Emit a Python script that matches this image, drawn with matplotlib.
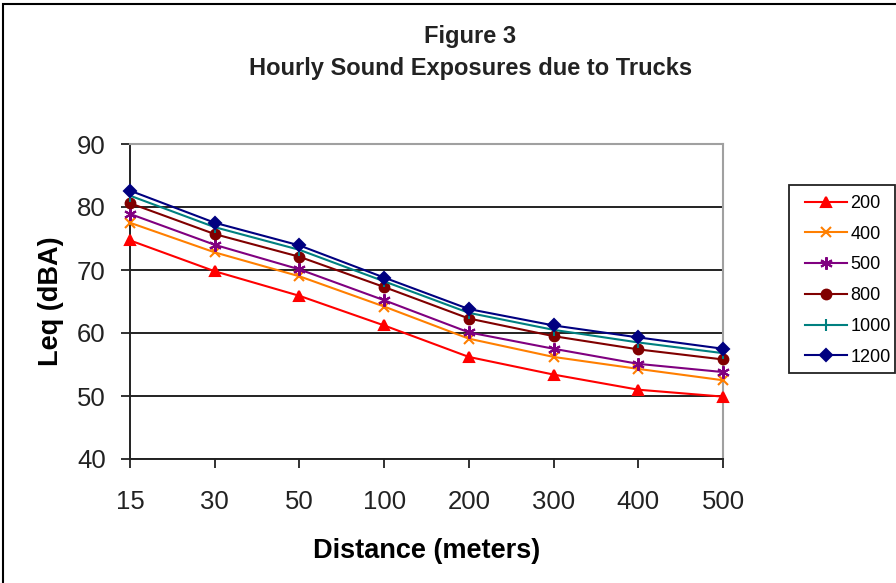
import matplotlib.pyplot as plt
from matplotlib.patches import Rectangle

plt.rcParams['font.family'] = ['Liberation Sans', 'DejaVu Sans']

# distance categories (meters)
distances = ['15', '30', '50', '100', '200', '300', '400', '500']

# Leq (dBA) per truck count
leq_200 = [74.7, 69.8, 65.9, 61.2, 56.2, 53.4, 51.0, 49.9]
leq_400 = [77.5, 72.8, 69.0, 64.2, 59.1, 56.2, 54.3, 52.5]
leq_500 = [78.9, 74.0, 70.1, 65.2, 60.1, 57.5, 55.1, 53.8]
leq_800 = [80.6, 75.7, 72.1, 67.3, 62.3, 59.5, 57.4, 55.8]
leq_1000 = [81.8, 76.8, 73.2, 68.2, 63.2, 60.5, 58.5, 56.8]
leq_1200 = [82.6, 77.5, 73.9, 68.8, 63.8, 61.2, 59.3, 57.5]

series = [
    ('200', leq_200, '#FF0000', '^', 7),
    ('400', leq_400, '#FF7F00', 'x', 7),
    ('500', leq_500, '#800080', (6, 2, 0), 9),
    ('800', leq_800, '#800000', 'o', 7),
    ('1000', leq_1000, '#008080', '|', 8),
    ('1200', leq_1200, '#000080', 'D', 6),
]

fig = plt.figure(figsize=(8.96, 5.83), dpi=100)
ax = fig.add_axes([130 / 896, 1 - 459 / 583, (723 - 130) / 896, (459 - 144) / 583])

x = list(range(len(distances)))
for name, vals, col, mk, ms in series:
    ax.plot(x, vals, color=col, marker=mk, markersize=ms, linewidth=1.5,
            markeredgewidth=1.5, label=name, clip_on=False, zorder=3)

ax.set_xlim(0, 7)
ax.set_ylim(40, 90)
ax.set_xticks(x)
ax.set_xticklabels(distances)
ax.set_yticks(range(40, 91, 10))
ax.yaxis.grid(True, color='#222222', linewidth=1.4)
ax.set_axisbelow(True)
ax.tick_params(axis='both', labelsize=18.5, direction='out', length=6.5,
               width=1.3, colors='#222222', labelcolor='#222222')
ax.tick_params(axis='x', pad=16)
ax.tick_params(axis='y', pad=11)

for s in ['left', 'bottom']:
    ax.spines[s].set_linewidth(1.4)
    ax.spines[s].set_color('#222222')
for s in ['right', 'top']:
    ax.spines[s].set_color('#a0a0a0')
    ax.spines[s].set_linewidth(1.5)

ax.set_xlabel('Distance (meters)', fontsize=19.5, fontweight='bold', labelpad=17)
ax.set_ylabel('Leq (dBA)', fontsize=19.5, fontweight='bold', labelpad=9)

fig.text(0.525, 1 - 43 / 583, 'Figure 3', ha='center', va='baseline',
         fontsize=17, fontweight='bold', color='#222222')
fig.text(0.525, 1 - 75 / 583, 'Hourly Sound Exposures due to Trucks',
         ha='center', va='baseline', fontsize=17, fontweight='bold',
         color='#222222')

leg = fig.legend(loc='upper left', bbox_to_anchor=(805 / 896, 1 - 195 / 583),
                 fontsize=13, frameon=False, handlelength=2.3,
                 handletextpad=0.2, labelspacing=0.76, borderpad=0,
                 borderaxespad=0)

# legend frame
fig.patches.append(Rectangle((789 / 896, 1 - 373 / 583), 106 / 896, 188 / 583,
                             transform=fig.transFigure, fill=False,
                             edgecolor='#222222', linewidth=1.3))

# outer chart border
fig.patches.append(Rectangle((0.003, -0.05), 1.2, 1.043, transform=fig.transFigure,
                             fill=False, edgecolor='black', linewidth=1.5))

fig.savefig('out.png', dpi=100)
